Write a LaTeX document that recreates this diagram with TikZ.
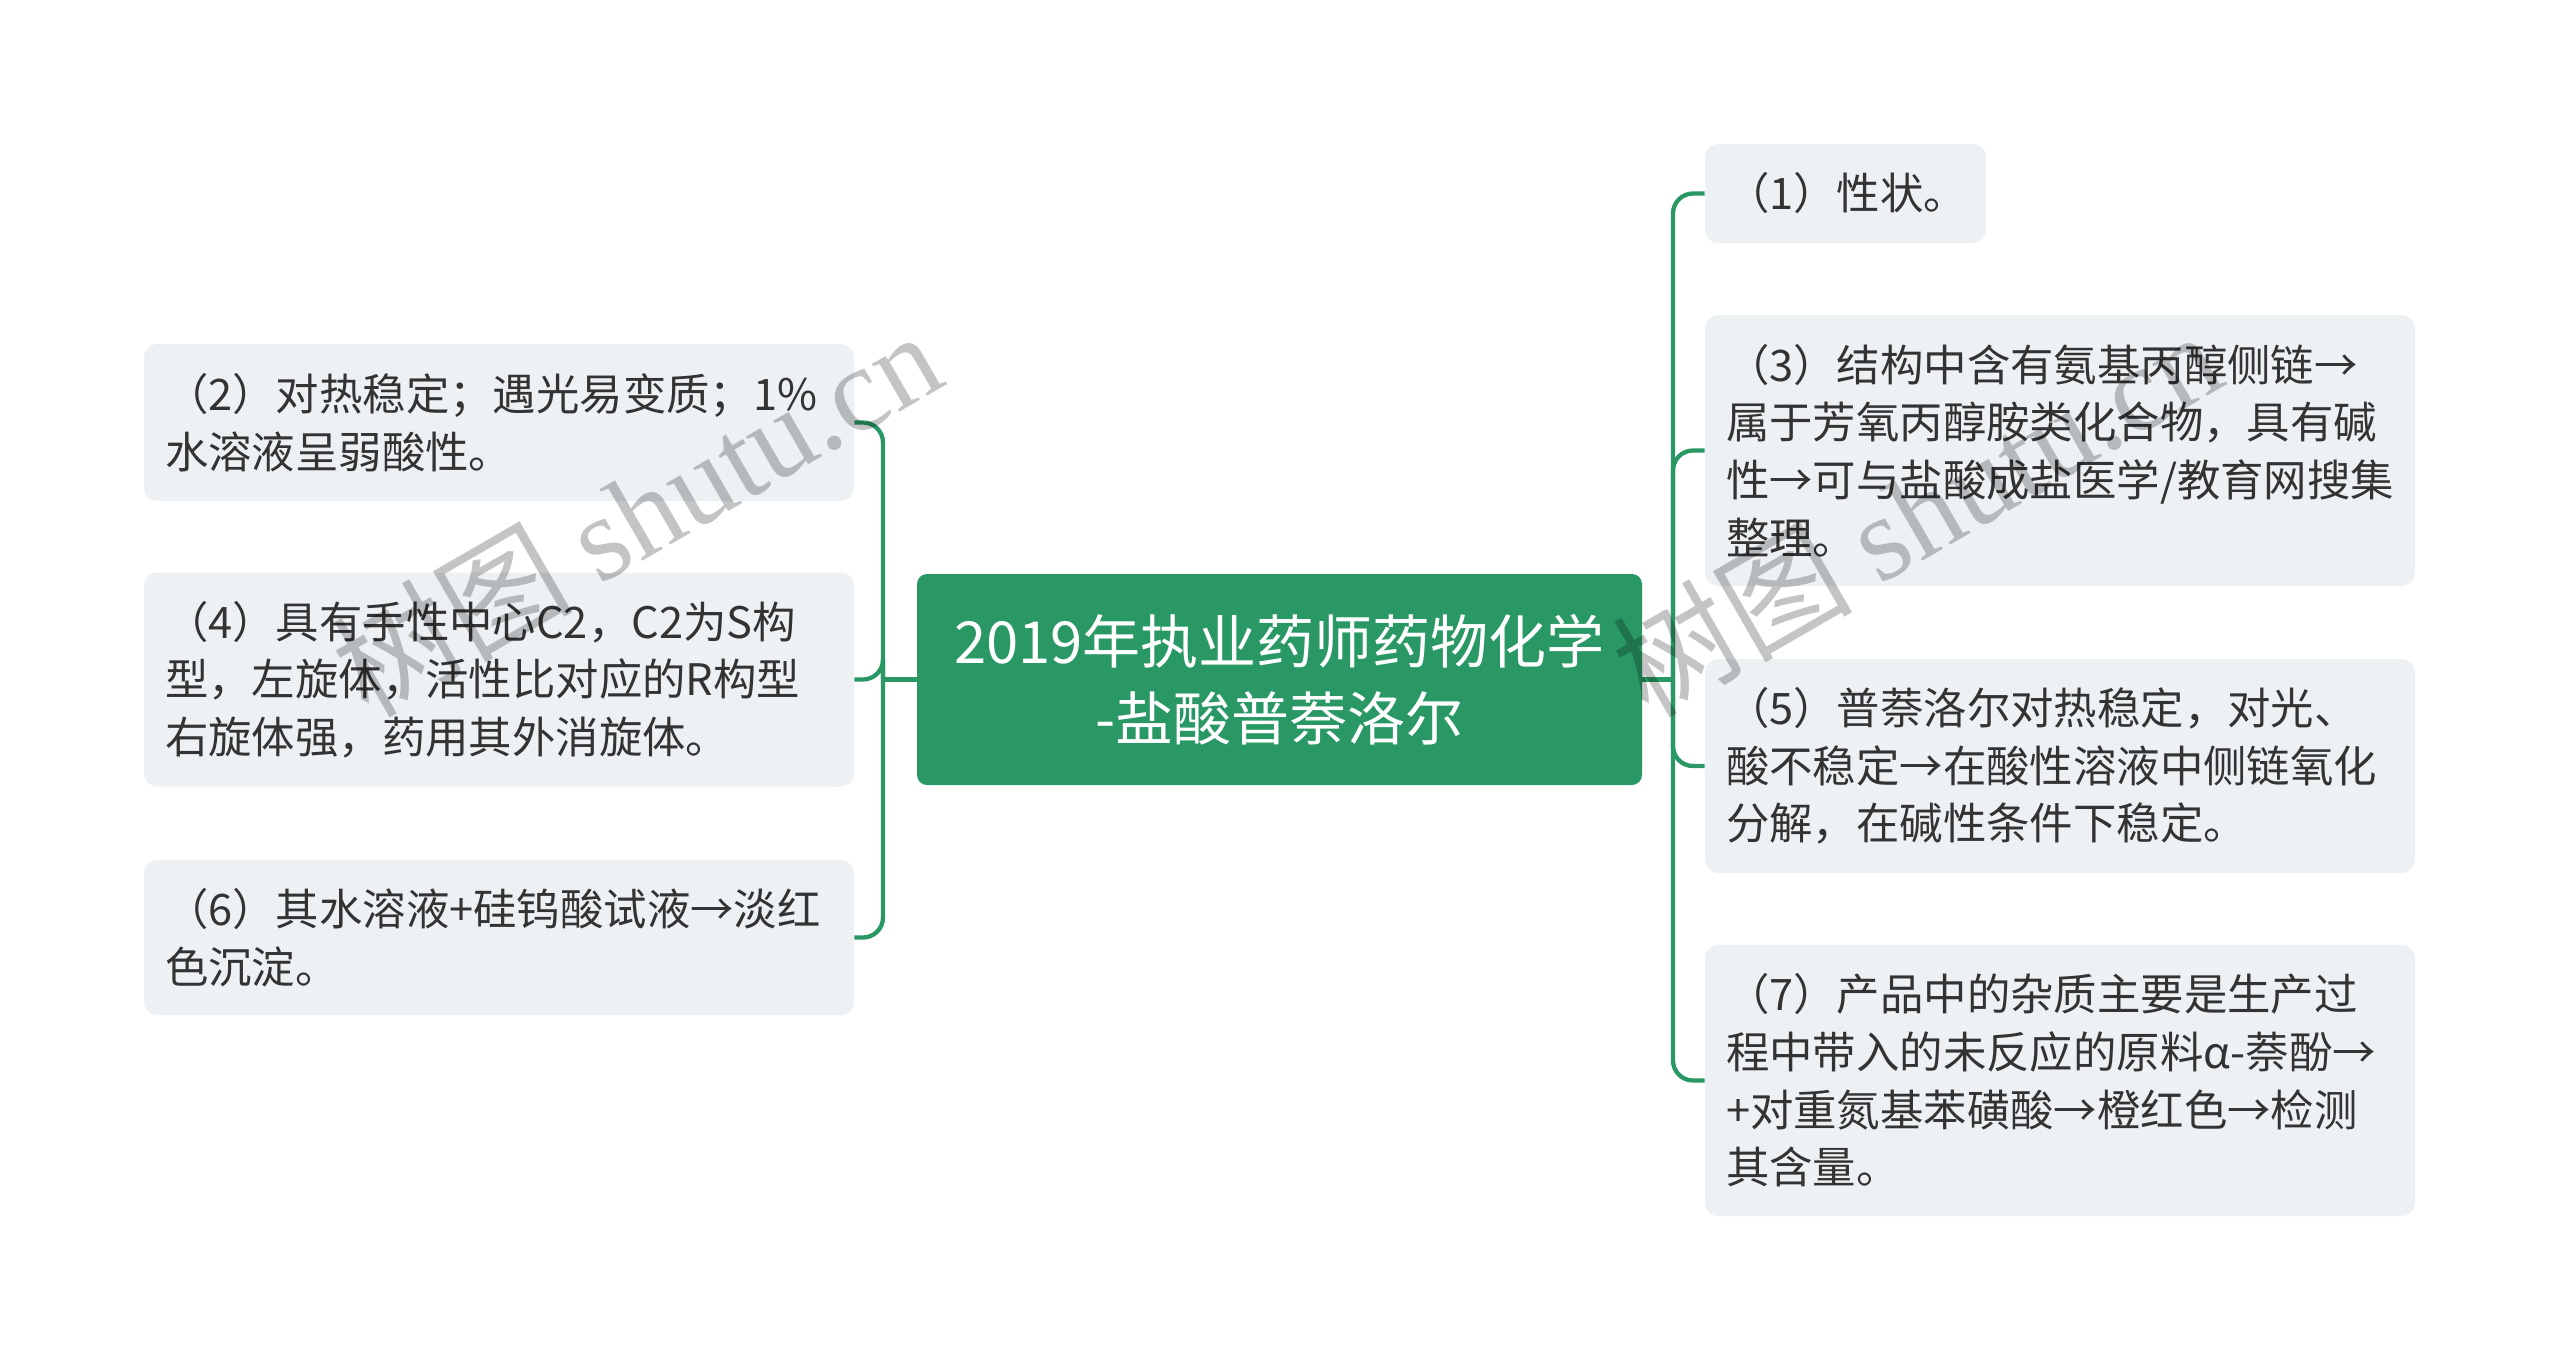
\documentclass[tikz,border=0pt]{standalone}
\usepackage{fontspec}
\setmainfont{Noto Sans CJK SC}
\newfontfamily\wmlatin{Liberation Serif}
\newfontfamily\wmcjk{Noto Sans CJK SC}
\definecolor{mgreen}{RGB}{41,152,101}
\definecolor{boxfill}{RGB}{238,241,244}
\definecolor{txtc}{RGB}{51,51,51}
\begin{document}
\begin{tikzpicture}[x=0.5pt,y=-0.5pt,
  box/.style={fill=boxfill, draw=none, rounded corners=6.5pt, inner sep=0pt, minimum width=355pt},
  txt/.style={anchor=west, inner sep=0pt, align=left, text=txtc, font=\fontsize{21.7pt}{28.8pt}\selectfont},
  root/.style={fill=mgreen, draw=none, rounded corners=5pt, inner sep=0pt, minimum width=362.5pt, minimum height=105.5pt,
    text=white, align=center, font=\fontsize{29pt}{38.5pt}\selectfont},
  conn/.style={draw=mgreen, line width=2.15pt, rounded corners=10pt},
  wm/.style={text=black, opacity=0.23, rotate=30, inner sep=0pt, font=\fontsize{60pt}{60pt}\selectfont}
]
\useasboundingbox (0,0) rectangle (2560,1361);
\fill[white] (0,0) rectangle (2560,1361);

% boxes
\node[root] (c) at (1279.5,679.5) {2019年执业药师药物化学\\-盐酸普萘洛尔};

\node[box, minimum height=78.5pt] (n2) at (499,422.5) {};
\node[box, minimum height=107pt] (n4) at (499,679.5) {};
\node[box, minimum height=77.5pt] (n6) at (499,937.5) {};

\node[box, minimum width=140.5pt, minimum height=49.5pt] (n1) at (1845.5,193.5) {};
\node[box, minimum height=135.5pt] (n3) at (2060,450.5) {};
\node[box, minimum height=107pt] (n5) at (2060,766) {};
\node[box, minimum height=135.5pt] (n7) at (2060,1080.5) {};

% texts
\node[txt] (t2) at ([xshift=10.5pt]n2.west) {（2）对热稳定；遇光易变质；1\%\\水溶液呈弱酸性。};
\node[txt] (t4) at ([xshift=10.5pt]n4.west) {（4）具有手性中心C2，C2为S构\\型，左旋体，活性比对应的R构型\\右旋体强，药用其外消旋体。};
\node[txt] (t6) at ([xshift=10.5pt]n6.west) {（6）其水溶液+硅钨酸试液→淡红\\色沉淀。};
\node[txt] (t1) at ([xshift=10.5pt]n1.west) {（1）性状。};
\node[txt] (t3) at ([xshift=10.5pt]n3.west) {（3）结构中含有氨基丙醇侧链→\\属于芳氧丙醇胺类化合物，具有碱\\性→可与盐酸成盐医学/教育网搜集\\整理。};
\node[txt] (t5) at ([xshift=10.5pt]n5.west) {（5）普萘洛尔对热稳定，对光、\\酸不稳定→在酸性溶液中侧链氧化\\分解，在碱性条件下稳定。};
\node[txt] (t7) at ([xshift=10.5pt]n7.west) {（7）产品中的杂质主要是生产过\\程中带入的未反应的原料α-萘酚→\\+对重氮基苯磺酸→橙红色→检测\\其含量。};

% connectors
\coordinate (jr) at (1673,679.5);
\coordinate (jl) at (883,679.5);
\draw[conn] (c.east) -- (jr);
\draw[conn] (jr) |- (n1.west);
\draw[conn] (jr) |- (n3.west);
\draw[conn] (jr) |- (n5.west);
\draw[conn] (jr) |- (n7.west);
\draw[conn] (c.west) -- (jl);
\draw[conn] (jl) |- (n2.east);
\draw[conn] (jl) |- (n4.east);
\draw[conn] (jl) |- (n6.east);

% watermark
\node[wm] (w1) at (636,512) {\wmcjk 树图\ \wmlatin shutu.cn};
\node[wm] (w2) at (1916,512) {\wmcjk 树图\ \wmlatin shutu.cn};
\end{tikzpicture}
\end{document}
